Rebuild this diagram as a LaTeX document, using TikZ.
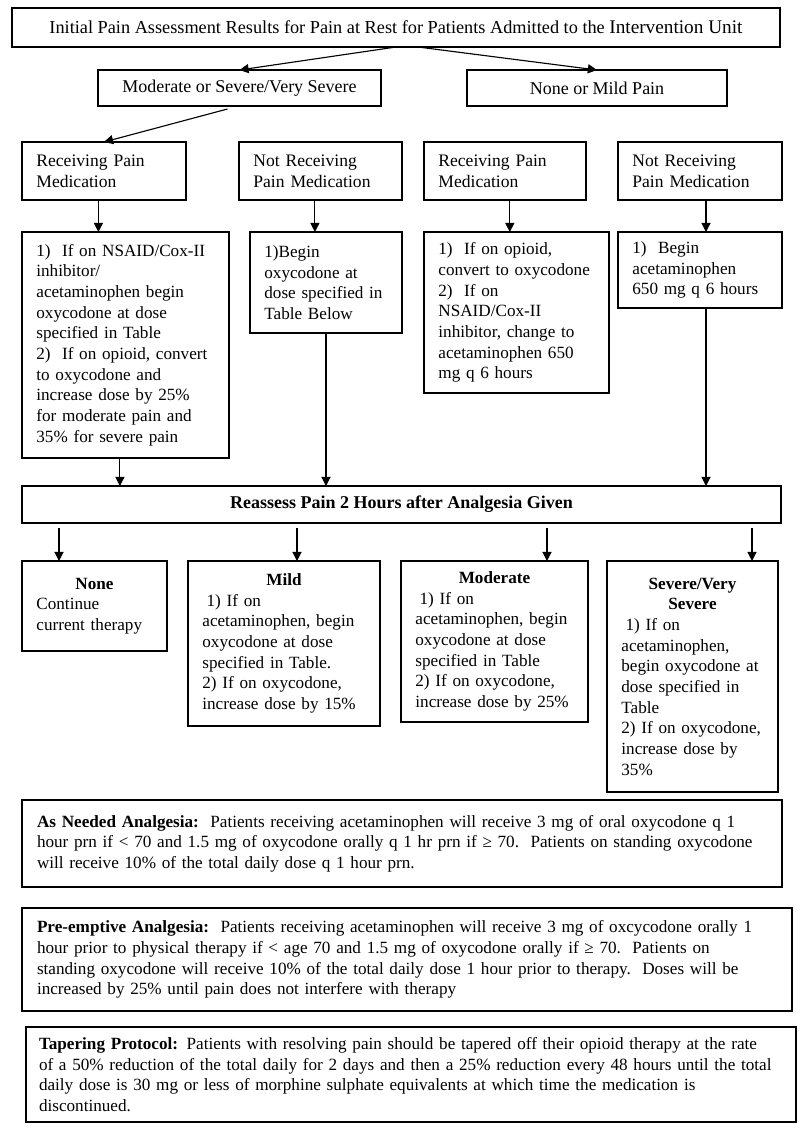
\documentclass[tikz,border=0pt]{standalone}
\usepackage{fontspec}
\setmainfont{Liberation Serif}
\usetikzlibrary{calc}
\usetikzlibrary{positioning}
\usetikzlibrary{arrows.meta}

\begin{document}
\begin{tikzpicture}[font=\fontsize{12.2}{14.7}\selectfont,
      box style/.style={rectangle,draw=black,line width=1pt,outer sep=0pt,
        inner xsep=0.36cm,inner ysep=0pt,align=center},
      step box/.style={box style,align=left},
      note style/.style={rectangle,draw=black,line width=1.3pt,outer sep=0pt,
        inner xsep=0.375cm,inner ysep=0pt,align=left},
      arr/.style={line width=0.8pt,-{Triangle[length=6.5pt,width=6.5pt]}}
      ]
      \useasboundingbox (0,0) rectangle (20,-28.325);

      \node[box style, minimum width=19.2cm, minimum height=0.975cm, font=\fontsize{13}{15}\selectfont] (title) at (9.9,-0.6875)
        {Initial Pain Assessment Results for Pain at Rest for Patients Admitted to the {\fontsize{13.7}{15}\selectfont Intervention Unit}};
      \node[box style, minimum width=7.075cm, minimum height=0.9cm, font=\fontsize{12.8}{15}\selectfont,
        below right=0.575cm and 2.15cm of title.south west] (sev) {Moderate or Severe/Very Severe};
      \node[box style, minimum width=6.5cm, minimum height=0.9cm, font=\fontsize{12.8}{15}\selectfont,
        right=2.15cm of sev] (mild) {None or Mild Pain};
      \draw[arr] (title.south) -- (sev.north);
      \draw[arr] ([xshift=5.5mm]title.south) -- (mild.north);

      % current medication
      \node[step box, text width=3.38cm, minimum height=1.45cm, font=\fontsize{12.5}{14.7}\selectfont,
        below right=2.375cm and 0.25cm of title.south west] (recA) {Receiving Pain\\Medication};
      \node[step box, text width=3.355cm, minimum height=1.45cm, font=\fontsize{12.5}{14.7}\selectfont,
        right=1.325cm of recA] (notA) {Not Receiving\\Pain Medication};
      \node[step box, text width=3.33cm, minimum height=1.45cm, font=\fontsize{12.5}{14.7}\selectfont,
        right=0.55cm of notA] (recB) {Receiving Pain\\Medication};
      \node[step box, text width=3.38cm, minimum height=1.45cm, font=\fontsize{12.5}{14.7}\selectfont,
        right=0.8cm of recB] (notB) {Not Receiving\\Pain Medication};
      \draw[arr] ([xshift=-3mm,yshift=-0.75mm]sev.south) -- (recA.north);

      \node[step box, text width=4.455cm, minimum height=5.65cm,
        below right=0.8cm and 0cm of recA.south west] (actA)
        {1)\ \ If on NSAID/Cox-II\\inhibitor/\\acetaminophen begin\\oxycodone at dose\\specified in Table\\
         2)\ \ If on opioid, convert\\to oxycodone and\\increase dose by 25\%\\for moderate pain and\\35\% for severe pain};
      \node[step box, text width=3.08cm, minimum height=2.525cm,
        below right=0.8cm and 0.275cm of notA.south west] (actB)
        {1)Begin\\oxycodone at\\dose specified in\\Table Below};
      \node[step box, text width=3.905cm, minimum height=4.025cm,
        below right=0.8cm and 0cm of recB.south west] (actC)
        {1)\ \ If on opioid,\\convert to oxycodone\\2)\ \ If on\\NSAID/Cox-II\\inhibitor, change to\\acetaminophen 650\\mg q 6 hours};
      \node[step box, text width=3.38cm, minimum height=1.9cm,
        below right=0.8cm and 0cm of notB.south west] (actD)
        {1)\ \ Begin\\acetaminophen\\650 mg q 6 hours};
      \draw[arr] ([xshift=-1.4mm]recA.south) -- ([xshift=-1.4mm]recA.south |- actA.north);
      \draw[arr] ([xshift=-1.4mm]notA.south) -- ([xshift=-1.4mm]notA.south |- actB.north);
      \draw[arr] ([xshift=1.2mm]recB.south) -- ([xshift=1.2mm]recB.south |- actC.north);
      \draw[arr] ([xshift=1.5mm]notB.south) -- ([xshift=1.5mm]notB.south |- actD.north);

      % reassessment
      \node[box style, minimum width=18.975cm, minimum height=0.925cm, font=\fontsize{12.8}{15}\selectfont,
        below right=0.7cm and 0cm of actA.south west] (reas) {\textbf{Reassess Pain 2 Hours after Analgesia Given}};
      \draw[arr] ([xshift=-1.4mm]actA.south) -- ([xshift=-1.4mm]actA.south |- reas.north);
      \draw[arr] (actB.south) -- (actB.south |- reas.north);
      \draw[arr] ([xshift=1.5mm]actD.south) -- ([xshift=1.5mm]actD.south |- reas.north);

      \node[step box, text width=2.905cm, minimum height=2.25cm,
        below right=0.95cm and 0cm of reas.south west] (none)
        {{\centering\textbf{None}\par}Continue\\current therapy\\[14.7pt]};
      \node[step box, text width=4.08cm, minimum height=4.125cm,
        below right=0.95cm and 4.15cm of reas.south west] (mildr)
        {{\centering\textbf{Mild}\par}\hspace*{3pt}1) If on\\acetaminophen, begin\\oxycodone at dose\\specified in Table.\\
         2) If on oxycodone,\\increase dose by 15\%};
      \node[step box, text width=3.955cm, minimum height=4.025cm,
        below right=0.95cm and 9.475cm of reas.south west] (modr)
        {{\centering\textbf{Moderate}\par}\hspace*{3pt}1) If on\\acetaminophen, begin\\oxycodone at dose\\specified in Table\\
         2) If on oxycodone,\\increase dose by 25\%};
      \node[step box, text width=3.555cm, minimum height=5.775cm,
        below right=0.95cm and 14.625cm of reas.south west] (sevr)
        {{\centering\textbf{Severe/Very}\\\textbf{Severe}\par}\hspace*{3pt}1) If on\\acetaminophen,\\begin oxycodone at\\dose specified in\\Table\\
         2) If on oxycodone,\\increase dose by\\35\%};
      \draw[arr] ($(reas.south west)+(0.925,-0.125)$) coordinate (r1) -- (r1 |- none.north);
      \draw[arr] ($(reas.south west)+(6.875,-0.125)$) coordinate (r2) -- (r2 |- mildr.north);
      \draw[arr] ($(reas.south west)+(13.125,-0.125)$) coordinate (r3) -- (r3 |- modr.north);
      \draw[arr] ($(reas.south west)+(18.25,-0.125)$) coordinate (r4) -- (r4 |- sevr.north);

      % notes
      \node[note style, text width=18.25cm, minimum height=2.175cm,
        below right=6.925cm and 0cm of reas.south west] (asneed)
        {\textbf{As Needed Analgesia:}\ \ Patients receiving acetaminophen will receive 3 mg of oral oxycodone q 1\\
         hour prn if < 70 and 1.5 mg of oxycodone orally q 1 hr prn if ≥ 70.\ \ Patients on standing oxycodone\\
         will receive 10\% of the total daily dose q 1 hour prn.\\[14.7pt]};
      \node[note style, text width=18.5cm, minimum height=2.575cm,
        below right=0.525cm and 0cm of asneed.south west] (preempt)
        {\textbf{Pre-emptive Analgesia:}\ \ Patients receiving acetaminophen will receive 3 mg of oxcycodone orally 1\\
         hour prior to physical therapy if < age 70 and 1.5 mg of oxycodone orally if ≥ 70.\ \ Patients on\\
         standing oxycodone will receive 10\% of the total daily dose 1 hour prior to therapy.\ \ Doses will be\\
         increased by 25\% until pain does not interfere with therapy};
      \node[note style, text width=18.6cm, inner xsep=0.325cm, minimum height=2.375cm,
        below right=0.4cm and 0.1cm of preempt.south west] (taper)
        {\textbf{Tapering Protocol:} Patients with resolving pain should be tapered off their opioid therapy at the rate\\
         of a 50\% reduction of the total daily for 2 days and then a 25\% reduction every 48 hours until the total\\
         daily dose is 30 mg or less of morphine sulphate equivalents at which time the medication is\\
         discontinued.};
    \end{tikzpicture}
\end{document}
